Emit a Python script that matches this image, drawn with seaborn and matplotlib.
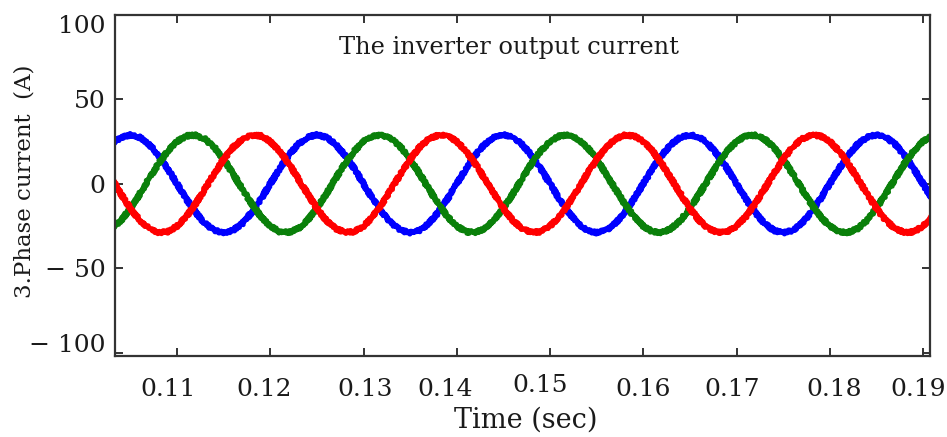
import matplotlib
matplotlib.use("Agg")
import matplotlib.pyplot as plt
from matplotlib.transforms import ScaledTranslation
import pandas as pd
import seaborn as sns

# Sample times (s) and the three inverter phase currents (A)
time_s = [
    0.103, 0.104, 0.105, 0.106, 0.107, 0.108, 0.109, 0.110, 0.111, 0.112,
    0.113, 0.114, 0.115, 0.116, 0.117, 0.118, 0.119, 0.120, 0.121, 0.122,
    0.123, 0.124, 0.125, 0.126, 0.127, 0.128, 0.129, 0.130, 0.131, 0.132,
    0.133, 0.134, 0.135, 0.136, 0.137, 0.138, 0.139, 0.140, 0.141, 0.142,
    0.143, 0.144, 0.145, 0.146, 0.147, 0.148, 0.149, 0.150, 0.151, 0.152,
    0.153, 0.154, 0.155, 0.156, 0.157, 0.158, 0.159, 0.160, 0.161, 0.162,
    0.163, 0.164, 0.165, 0.166, 0.167, 0.168, 0.169, 0.170, 0.171, 0.172,
    0.173, 0.174, 0.175, 0.176, 0.177, 0.178, 0.179, 0.180, 0.181, 0.182,
    0.183, 0.184, 0.185, 0.186, 0.187, 0.188, 0.189, 0.190, 0.191,
]

i_green = [
    -26.5, -21.6, -14.5, -6.0, 3.0, 11.8, 19.4, 25.1, 28.4, 28.8,
    26.5, 21.6, 14.5, 6.0, -3.0, -11.8, -19.4, -25.1, -28.4, -28.8,
    -26.5, -21.6, -14.5, -6.0, 3.0, 11.8, 19.4, 25.1, 28.4, 28.8,
    26.5, 21.6, 14.5, 6.0, -3.0, -11.8, -19.4, -25.1, -28.4, -28.8,
    -26.5, -21.6, -14.5, -6.0, 3.0, 11.8, 19.4, 25.1, 28.4, 28.8,
    26.5, 21.6, 14.5, 6.0, -3.0, -11.8, -19.4, -25.1, -28.4, -28.8,
    -26.5, -21.6, -14.5, -6.0, 3.0, 11.8, 19.4, 25.1, 28.4, 28.8,
    26.5, 21.6, 14.5, 6.0, -3.0, -11.8, -19.4, -25.1, -28.4, -28.8,
    -26.5, -21.6, -14.5, -6.0, 3.0, 11.8, 19.4, 25.1, 28.4,
]

i_red = [
    3.0, -6.0, -14.5, -21.6, -26.5, -28.8, -28.4, -25.1, -19.4, -11.8,
    -3.0, 6.0, 14.5, 21.6, 26.5, 28.8, 28.4, 25.1, 19.4, 11.8,
    3.0, -6.0, -14.5, -21.6, -26.5, -28.8, -28.4, -25.1, -19.4, -11.8,
    -3.0, 6.0, 14.5, 21.6, 26.5, 28.8, 28.4, 25.1, 19.4, 11.8,
    3.0, -6.0, -14.5, -21.6, -26.5, -28.8, -28.4, -25.1, -19.4, -11.8,
    -3.0, 6.0, 14.5, 21.6, 26.5, 28.8, 28.4, 25.1, 19.4, 11.8,
    3.0, -6.0, -14.5, -21.6, -26.5, -28.8, -28.4, -25.1, -19.4, -11.8,
    -3.0, 6.0, 14.5, 21.6, 26.5, 28.8, 28.4, 25.1, 19.4, 11.8,
    3.0, -6.0, -14.5, -21.6, -26.5, -28.8, -28.4, -25.1, -19.4,
]

i_blue = [
    23.5, 27.6, 29.0, 27.6, 23.5, 17.0, 9.0, 0.0, -9.0, -17.0,
    -23.5, -27.6, -29.0, -27.6, -23.5, -17.0, -9.0, 0.0, 9.0, 17.0,
    23.5, 27.6, 29.0, 27.6, 23.5, 17.0, 9.0, 0.0, -9.0, -17.0,
    -23.5, -27.6, -29.0, -27.6, -23.5, -17.0, -9.0, 0.0, 9.0, 17.0,
    23.5, 27.6, 29.0, 27.6, 23.5, 17.0, 9.0, 0.0, -9.0, -17.0,
    -23.5, -27.6, -29.0, -27.6, -23.5, -17.0, -9.0, 0.0, 9.0, 17.0,
    23.5, 27.6, 29.0, 27.6, 23.5, 17.0, 9.0, 0.0, -9.0, -17.0,
    -23.5, -27.6, -29.0, -27.6, -23.5, -17.0, -9.0, 0.0, 9.0, 17.0,
    23.5, 27.6, 29.0, 27.6, 23.5, 17.0, 9.0, 0.0, -9.0,
]

x_ticks = [0.11, 0.12, 0.13, 0.14, 0.15, 0.16, 0.17, 0.18, 0.19]
x_tick_labels = ["0.11", "0.12", "0.13", "0.14", "0.15", "0.16", "0.17", "0.18", "0.19"]
y_ticks = [-100, -50, 0, 50, 100]
y_tick_labels = ["\u2212 100", "\u2212 50", "0", "50", "100"]

phase_colors = {"Phase C": "#0000ff", "Phase A": "#0a800a", "Phase B": "#ff0000"}

df = pd.concat([
    pd.DataFrame({"t": time_s, "i": i_blue, "phase": "Phase C"}),
    pd.DataFrame({"t": time_s, "i": i_green, "phase": "Phase A"}),
    pd.DataFrame({"t": time_s, "i": i_red, "phase": "Phase B"}),
], ignore_index=True)

sns.set_theme(style="white")
plt.rcParams["font.family"] = ["DejaVu Serif"]
text_color = "#1a1a1a"

W, H = 947, 437
fig = plt.figure(figsize=(W / 100, H / 100), dpi=100)
ax = fig.add_axes([115 / W, 81 / H, 815 / W, 341 / H])

sns.lineplot(data=df, x="t", y="i", hue="phase",
             hue_order=["Phase C", "Phase A", "Phase B"],
             palette=phase_colors, linewidth=3.8, legend=False,
             estimator=None, sort=False, ax=ax)
for ln in ax.lines:
    ln.set_solid_capstyle("butt")
    ln.set_sketch_params(scale=1.4, length=3, randomness=2)

ax.set_xlim(0.10335, 0.19075)
ax.set_ylim(-102, 100)
ax.set_xticks(x_ticks)
ax.set_xticklabels(x_tick_labels)
ax.set_yticks(y_ticks)
ax.set_yticklabels(y_tick_labels)
ax.set_xlabel("")
ax.set_ylabel("")

for side in ["left", "right", "top", "bottom"]:
    ax.spines[side].set_visible(True)
    ax.spines[side].set_color("#333333")
    ax.spines[side].set_linewidth(1.6)

ax.tick_params(axis="both", which="major", direction="in", length=6,
               width=1.4, color="#333333", labelsize=18,
               labelcolor=text_color, top=True, right=True,
               bottom=True, left=True)
ax.tick_params(axis="x", pad=16)
ax.tick_params(axis="y", pad=7)

# small per-label offsets (pixels) for the tick labels
x_nudge = [(-9, 0), (-6, 0), (2, 0), (-12, 0), (-10, 4.5), (0, 0), (-4, 0), (4, 0), (-5, 0)]
for lab, (dx, dy) in zip(ax.get_xticklabels(), x_nudge):
    lab.set_transform(lab.get_transform() + ScaledTranslation(dx / 100, dy / 100, fig.dpi_scale_trans))
y_nudge = [(0, 10), (0, 0), (0, 0), (0, 0), (0, -9)]
for lab, (dx, dy) in zip(ax.get_yticklabels(), y_nudge):
    lab.set_transform(lab.get_transform() + ScaledTranslation(dx / 100, dy / 100, fig.dpi_scale_trans))

ax.text(0.4834, 0.906, "The inverter output current", transform=ax.transAxes,
        ha="center", va="center", fontsize=17.4, color=text_color)
fig.text(25 / W, 1 - 181 / H, "3.Phase current  (A)", rotation=90,
         ha="center", va="center", fontsize=16.5, color=text_color)
fig.text(526 / W, 1 - 420 / H, "Time (sec)", ha="center", va="center",
         fontsize=19.5, color=text_color)

fig.savefig("out.png", dpi=100, facecolor="white")
